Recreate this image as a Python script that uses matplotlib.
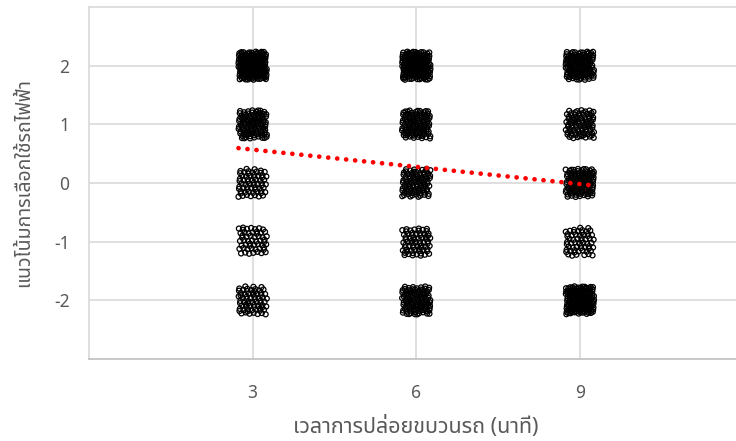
import numpy as np
import matplotlib
matplotlib.use("Agg")
import matplotlib.pyplot as plt

# release interval (minutes) and answer levels on the -2..2 scale
times = [3, 6, 9]
levels = [-2, -1, 0, 1, 2]

# number of answers per level (order follows levels) for each release interval
counts_3 = [70, 55, 65, 110, 180]
counts_6 = [110, 70, 95, 110, 165]
counts_9 = [150, 60, 115, 90, 130]

xlabel = "เวลาการปล่อยขบวนรถ (นาที)"
ylabel = "แนวโน้มการเลือกใช้รถไฟฟ้า"

plt.rcParams['font.family'] = ['Noto Sans Thai', 'Noto Sans', 'DejaVu Sans']

# spread the answers inside each cell so they don't sit on one spot
# (deterministic R2 sequence, no random numbers)
a1, a2 = 0.7548776662, 0.5698402910
spread_x = 0.26
spread_y = 0.24

xs = []
ys = []
k = 0
for t, counts in zip(times, [counts_3, counts_6, counts_9]):
	for lev, n in zip(levels, counts):
		for i in range(n):
			u = (0.5 + a1 * (i + 1 + 131 * k)) % 1.0
			v = (0.5 + a2 * (i + 1 + 131 * k)) % 1.0
			xs.append(t + (u - 0.5) * 2 * spread_x)
			ys.append(lev + (v - 0.5) * 2 * spread_y)
		k += 1
xs = np.array(xs)
ys = np.array(ys)

fig = plt.figure(figsize=(7.36, 4.41), dpi=100)
ax = fig.add_axes([89 / 736, 1 - 359 / 441, (743.5 - 89) / 736, (359 - 7) / 441])

ax.scatter(xs, ys, s=13, facecolors='none', edgecolors='black', linewidths=0.9, zorder=3)

# linear trend over the data, like an Excel trendline
slope, icpt = np.polyfit(xs, ys, 1)
tx = np.array([xs.min(), xs.max()])
ax.plot(tx, slope * tx + icpt, color='red', linestyle=(0, (0.01, 1.9)), linewidth=3.4,
	dash_capstyle='round', zorder=4)

ax.set_xlim(0, 12)
ax.set_ylim(-3, 3)
ax.set_xticks(times)
ax.set_yticks(levels)
ax.grid(True, color='#d9d9d9', linewidth=1.2)
ax.set_axisbelow(True)
ax.tick_params(length=0, labelsize=12.5, labelcolor='#595959')
ax.tick_params(axis='y', pad=14)
ax.tick_params(axis='x', pad=18)

ax.spines['top'].set_color('#d9d9d9')
ax.spines['top'].set_linewidth(1.2)
ax.spines['left'].set_color('#d9d9d9')
ax.spines['left'].set_linewidth(1.2)
ax.spines['bottom'].set_color('#bfbfbf')
ax.spines['bottom'].set_linewidth(1.2)
ax.spines['right'].set_visible(False)

ax.set_xlabel(xlabel, fontsize=15.5, color='#595959', labelpad=10)
ax.set_ylabel(ylabel, fontsize=14, color='#595959', labelpad=14)

fig.savefig("out.png")
